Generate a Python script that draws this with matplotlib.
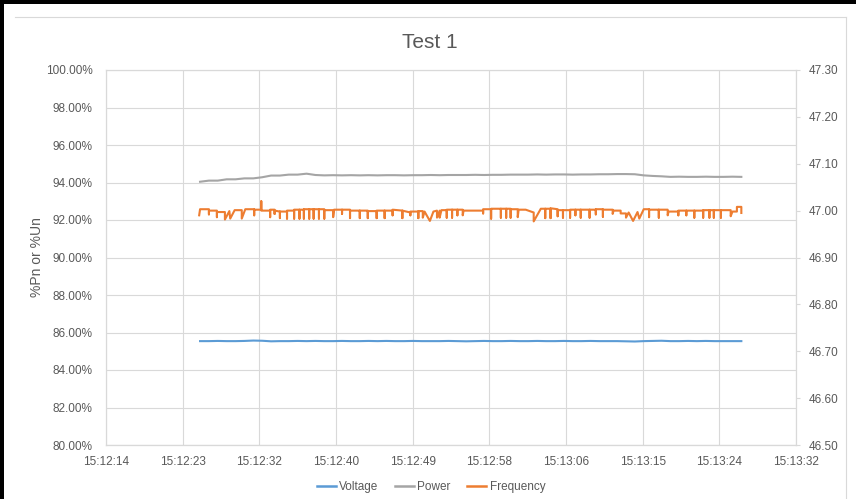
import numpy as np
import matplotlib
matplotlib.use("Agg")
import matplotlib.pyplot as plt
from matplotlib.lines import Line2D
from matplotlib.patches import Rectangle
from matplotlib.ticker import FuncFormatter

# ---------------- data ----------------
title = "Test 1"
series_names = ["Voltage", "Power", "Frequency"]
x_tick_labels = ["15:12:14", "15:12:23", "15:12:32", "15:12:40", "15:12:49",
                 "15:12:58", "15:13:06", "15:13:15", "15:13:24", "15:13:32"]
left_ticks_pct = [80, 82, 84, 86, 88, 90, 92, 94, 96, 98, 100]
right_ticks_hz = [46.5, 46.6, 46.7, 46.8, 46.9, 47.0, 47.1, 47.2, 47.3]

# sampled once per second, from 15:12:25 to 15:13:26 (seconds after 15:12:00)
sample_start_sec = 25

power_pct = [94.04, 94.10, 94.10, 94.17, 94.17, 94.22, 94.22, 94.28, 94.37, 94.37,
             94.42, 94.42, 94.47, 94.40, 94.38, 94.39, 94.38, 94.39, 94.38, 94.39,
             94.38, 94.39, 94.39, 94.38, 94.39, 94.39, 94.40, 94.39, 94.40, 94.40,
             94.40, 94.41, 94.40, 94.41, 94.41, 94.42, 94.42, 94.42, 94.43, 94.42,
             94.43, 94.43, 94.42, 94.43, 94.43, 94.44, 94.44, 94.45, 94.45, 94.44,
             94.38, 94.35, 94.33, 94.30, 94.31, 94.30, 94.30, 94.31, 94.30, 94.30,
             94.31, 94.30]

voltage_pct = [85.54, 85.54, 85.55, 85.54, 85.54, 85.55, 85.57, 85.56, 85.53, 85.54,
               85.54, 85.55, 85.54, 85.55, 85.54, 85.54, 85.55, 85.54, 85.54, 85.55,
               85.54, 85.55, 85.54, 85.54, 85.55, 85.54, 85.54, 85.54, 85.55, 85.54,
               85.53, 85.54, 85.55, 85.54, 85.54, 85.55, 85.54, 85.54, 85.55, 85.54,
               85.54, 85.55, 85.54, 85.54, 85.55, 85.54, 85.54, 85.54, 85.53, 85.52,
               85.54, 85.55, 85.56, 85.54, 85.54, 85.55, 85.54, 85.55, 85.54, 85.54,
               85.54, 85.54]

# frequency readings (seconds after 15:12:00, Hz)
freq_samples = [
    (24.9, 46.990), (25.0, 47.003),
    (26.0, 47.003), (26.0, 46.992), (26.0, 47.000),
    (26.9, 47.000), (26.9, 46.986), (26.9, 46.997),
    (27.8, 46.997), (27.8, 46.981), (28.3, 46.999),
    (28.4, 46.983), (28.9, 47.001),
    (29.7, 47.001), (29.7, 46.983), (30.1, 47.003),
    (31.1, 47.003), (31.1, 46.990), (31.1, 47.002),
    (31.9, 47.002), (31.9, 47.020), (31.9, 47.000),
    (32.9, 47.000), (32.9, 46.986), (32.9, 47.002),
    (33.4, 47.002), (33.4, 46.993), (33.4, 47.000),
    (34.0, 46.998), (34.0, 46.984), (34.0, 46.998),
    (34.8, 46.998), (34.8, 46.983), (34.8, 47.000),
    (35.6, 47.000), (35.6, 46.983), (35.6, 47.002),
    (36.2, 47.002), (36.2, 46.983), (36.2, 47.002),
    (36.7, 47.002), (36.7, 46.983), (36.7, 47.003),
    (37.3, 47.003), (37.3, 46.983), (37.3, 47.003),
    (37.8, 47.003), (37.8, 46.983), (37.8, 47.003),
    (38.4, 47.003), (38.4, 46.983), (38.4, 47.003),
    (39.0, 47.003), (39.0, 46.983), (39.0, 47.001),
    (40.0, 47.001), (40.0, 46.986), (40.1, 47.002),
    (41.0, 47.002), (41.0, 46.993), (41.0, 47.002),
    (41.9, 47.002), (41.9, 46.984), (41.9, 47.000),
    (43.0, 47.000), (43.0, 46.984), (43.0, 47.000),
    (43.9, 47.000), (43.9, 46.984), (43.9, 46.999),
    (44.9, 46.999), (44.9, 46.984), (44.9, 47.000),
    (45.8, 47.000), (45.8, 46.984), (45.8, 47.000),
    (46.7, 47.000), (46.7, 46.990), (46.7, 47.002),
    (47.8, 47.000), (47.8, 46.984), (47.8, 47.000),
    (48.7, 46.996), (48.7, 46.990), (48.7, 46.998),
    (49.6, 46.998), (49.6, 46.984), (49.6, 46.999),
    (50.1, 46.999), (50.1, 46.985), (50.3, 46.998),
    (50.9, 46.978), (51.3, 46.998),
    (51.7, 47.000), (51.7, 46.985), (52.0, 47.000),
    (52.0, 46.985), (52.2, 47.001),
    (52.8, 47.001), (52.8, 46.985), (52.8, 47.002),
    (53.4, 47.002), (53.4, 46.985), (53.4, 47.002),
    (54.0, 47.002), (54.0, 46.990), (54.0, 47.002),
    (54.6, 47.002), (54.6, 46.990), (54.7, 47.000),
    (56.9, 47.000), (56.9, 46.994), (56.9, 47.003),
    (57.8, 47.003), (57.8, 46.983), (57.8, 47.004),
    (58.9, 47.004), (58.9, 46.985), (58.9, 47.004),
    (59.5, 47.004), (59.5, 46.985), (59.5, 47.004),
    (60.0, 47.004), (60.0, 46.985), (60.0, 47.003),
    (60.8, 47.003), (60.8, 46.986), (60.9, 47.002),
    (61.7, 47.002), (62.6, 46.996), (62.6, 46.977), (63.4, 47.004),
    (63.9, 47.004), (63.9, 46.984), (63.9, 47.004),
    (64.5, 47.004), (64.5, 46.984), (64.5, 47.005),
    (65.3, 47.003), (65.3, 46.988), (65.3, 47.001),
    (65.9, 47.001), (65.9, 46.985), (65.9, 47.001),
    (66.7, 47.001), (66.7, 46.985), (66.7, 47.002),
    (67.3, 47.002), (67.3, 46.990), (67.3, 47.002),
    (67.9, 47.002), (67.9, 46.985), (67.9, 47.002),
    (68.9, 47.002), (68.9, 46.985), (68.9, 47.002),
    (69.6, 47.002), (69.6, 46.992), (69.6, 47.003),
    (70.4, 47.003), (70.4, 46.987), (70.4, 47.002),
    (71.5, 47.002), (71.5, 46.993), (71.6, 47.000),
    (72.4, 47.000), (72.4, 46.994), (73.0, 46.994), (73.0, 46.985), (73.3, 46.996),
    (73.8, 46.978), (74.3, 46.997), (74.5, 46.983), (75.0, 47.003),
    (75.6, 47.003), (75.6, 46.986), (75.6, 47.002),
    (76.7, 47.002), (76.7, 46.985), (76.7, 47.002),
    (77.7, 47.002), (77.7, 46.990), (77.8, 46.998),
    (78.9, 46.998), (78.9, 46.990), (78.9, 47.000),
    (79.8, 47.000), (79.8, 46.990), (79.8, 47.000),
    (80.7, 47.000), (80.7, 46.985), (80.7, 47.000),
    (81.7, 47.000), (81.7, 46.985), (81.7, 47.001),
    (82.4, 47.001), (82.4, 46.985), (82.4, 47.001),
    (82.9, 47.001), (82.9, 46.985), (82.9, 47.001),
    (83.7, 47.001), (83.7, 46.985), (83.7, 47.001),
    (84.8, 47.001), (84.8, 46.988), (85.0, 46.998),
    (85.5, 46.998), (85.5, 47.008), (86.0, 47.008), (86.0, 46.995),
]

# ---------------- style ----------------
C_VOLT = "#5B9BD5"
C_POW = "#A5A5A5"
C_FREQ = "#ED7D31"
C_TEXT = "#595959"
C_GRID = "#D9D9D9"
FONT = "Liberation Sans"
plt.rcParams["font.family"] = [FONT, "DejaVu Sans"]

# x axis: Excel time axis from 0.6335 d with 0.0001 d (8.64 s) steps
x_min_sec = 14.4
x_step_sec = 8.64

fig = plt.figure(figsize=(8.56, 4.99), dpi=100)
fig.patch.set_facecolor("white")

ax = fig.add_axes([106 / 856, 54 / 499, 690 / 856, 375 / 499])
ax2 = ax.twinx()

t_samples = sample_start_sec + np.arange(len(power_pct))
ax.plot(t_samples, voltage_pct, color=C_VOLT, lw=1.5, solid_joinstyle="round", zorder=3)
ax.plot(t_samples, power_pct, color=C_POW, lw=1.5, solid_joinstyle="round", zorder=3)
ft = [p[0] for p in freq_samples]
fv = [p[1] for p in freq_samples]
ax2.plot(ft, fv, color=C_FREQ, lw=1.5, solid_joinstyle="round", zorder=3)

xticks = x_min_sec + x_step_sec * np.arange(len(x_tick_labels))
ax.set_xlim(xticks[0], xticks[-1])
ax.set_xticks(xticks)
ax.set_xticklabels(x_tick_labels)
ax.set_ylim(80, 100)
ax.set_yticks(left_ticks_pct)
ax.yaxis.set_major_formatter(FuncFormatter(lambda v, p: f"{v:.2f}%"))
ax2.set_ylim(46.5, 47.3)
ax2.set_yticks(right_ticks_hz)
ax2.yaxis.set_major_formatter(FuncFormatter(lambda v, p: f"{v:.2f}"))

ax.grid(True, color=C_GRID, lw=0.8)
ax.set_axisbelow(True)
for a in (ax, ax2):
    for s in a.spines.values():
        s.set_color(C_GRID)
        s.set_linewidth(0.8)
ax.spines["bottom"].set_color("#BFBFBF")
ax.tick_params(axis="both", length=0, colors=C_TEXT, labelsize=8.5)
ax.tick_params(axis="y", pad=9.5)
ax.tick_params(axis="x", pad=8)
ax2.tick_params(axis="y", length=3, color=C_GRID, colors=C_TEXT, labelsize=8.5, pad=6)
for lab in ax2.get_yticklabels():
    lab.set_color(C_TEXT)

ax.set_ylabel("%Pn or %Un", color=C_TEXT, fontsize=10)
ax.yaxis.set_label_coords((44 - 106) / 690, 0.5)
fig.text(430 / 856, 1 - 42 / 499, title, ha="center", va="center",
         fontsize=15, color=C_TEXT)

handles = [Line2D([], [], color=c, lw=1.8) for c in (C_VOLT, C_POW, C_FREQ)]
leg = fig.legend(handles, series_names, loc="center", bbox_to_anchor=(431 / 856, 1 - 487 / 499),
                 ncol=3, frameon=False, fontsize=8.5, handlelength=1.6, handletextpad=0.3,
                 columnspacing=1.4)
for t in leg.get_texts():
    t.set_color(C_TEXT)

# screenshot frame: black edges top/left, gray chart border
fig.add_artist(Rectangle((0, 1 - 4 / 499), 1, 4 / 499, transform=fig.transFigure,
                         color="black", lw=0))
fig.add_artist(Rectangle((0, 0), 4 / 856, 1, transform=fig.transFigure,
                         color="black", lw=0))
fig.add_artist(Line2D([15 / 856, 846 / 856], [1 - 17 / 499, 1 - 17 / 499],
                      transform=fig.transFigure, color=C_GRID, lw=0.8))
fig.add_artist(Line2D([846 / 856, 846 / 856], [0, 1 - 17 / 499],
                      transform=fig.transFigure, color=C_GRID, lw=0.8))

fig.savefig("out.png", dpi=100, facecolor="white")
